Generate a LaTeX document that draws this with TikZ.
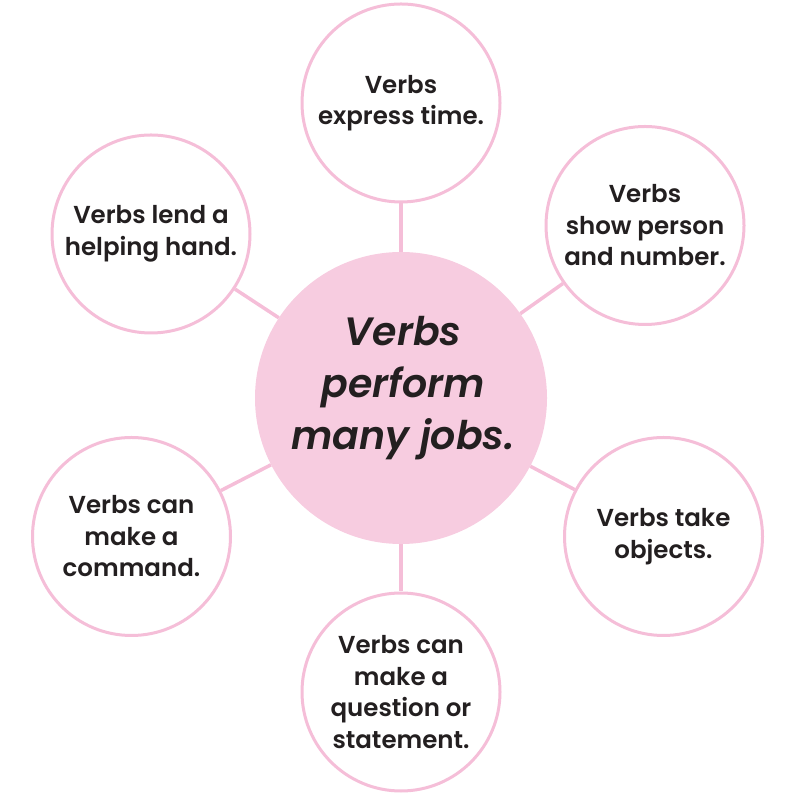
\documentclass[tikz,border=0pt]{standalone}
\usepackage{fontspec}
\setmainfont{Poppins}[UprightFont=* SemiBold, ItalicFont=* SemiBold Italic]
\usepackage{xcolor}
\usepackage{tikz}

\definecolor{rosa}{RGB}{245,190,216}
\definecolor{rosafondo}{RGB}{247,204,224}
\definecolor{tinta}{RGB}{35,31,32}

\begin{document}
\begin{tikzpicture}[x=1pt, y=1pt,
  burbuja/.style={circle, draw=rosa, line width=3pt, fill=white, minimum size=198pt,
    inner sep=0pt, align=center, text=tinta, font=\fontsize{24.5}{31.5}\selectfont},
  centro/.style={circle, fill=rosafondo, minimum size=292pt, inner sep=0pt},
  centrotexto/.style={align=center, text=tinta, font=\fontsize{39.5}{52}\selectfont\itshape},
  rayo/.style={draw=rosa, line width=3.5pt}]
% Definir parámetros del lienzo
\def\ancho{795}
\def\alto{799}
\useasboundingbox (0,0) rectangle (\ancho,\alto);

% Círculo central
\node[centro] (verbos) at (401,401) {};
\node[centrotexto] (verbostexto) at (403,411) {Verbs\\perform\\many jobs.};

% Círculos exteriores
\node[burbuja] (tiempo) at (401,696) {Verbs\\express time.};
\node[burbuja] (persona) at (645,573.5) {Verbs\\show person\\and number.};
\node[burbuja] (ayuda) at (151,565) {Verbs lend a\\helping hand.};
\node[burbuja] (orden) at (131.5,262.5) {Verbs can\\make a\\command.};
\node[burbuja] (objetos) at (663.5,262.5) {Verbs take\\objects.};
\node[burbuja] (pregunta) at (401,107) {Verbs can\\make a\\question or\\statement.};

% Líneas de unión
\foreach \destino in {tiempo, persona, ayuda, orden, objetos, pregunta}
  \draw[rayo] (verbos) -- (\destino);

\end{tikzpicture}
\end{document}
